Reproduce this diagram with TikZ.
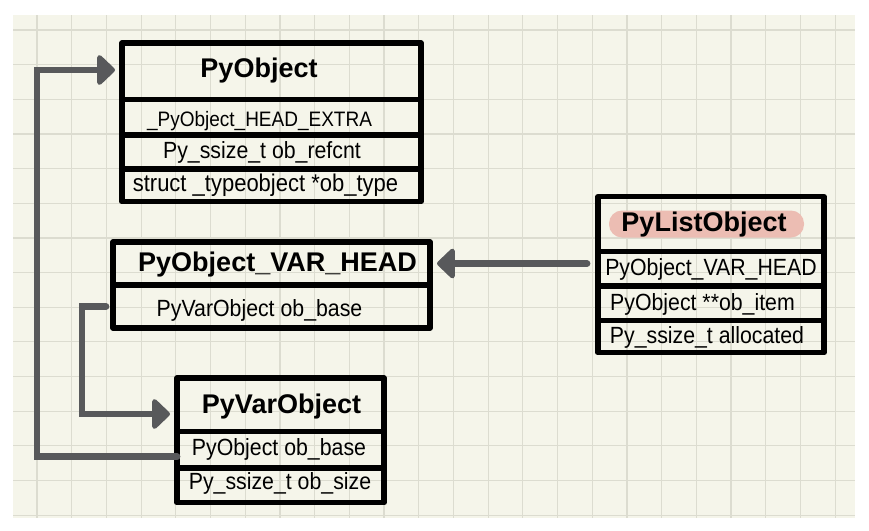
\documentclass[tikz,border=0pt]{standalone}
\usepackage{fontspec}
\setmainfont{Liberation Sans}
\usetikzlibrary{arrows.meta}
\definecolor{paper}{HTML}{F5F5EA}
\definecolor{gridc}{HTML}{DCDCD0}
\definecolor{conngray}{HTML}{58595B}
\definecolor{pillc}{HTML}{ECBDB3}
\newcommand{\fsz}[1]{\fontsize{#1}{#1}\selectfont}
\newcommand{\tallbox}[1]{\scalebox{1}[1.1]{#1}}
\begin{document}
\begin{tikzpicture}[x=1pt,y=-1pt,
  cell/.style={draw=black, line width=5.5pt, line join=round, inner sep=0pt, outer sep=0pt, anchor=north west},
  title/.style={font=\fsz{27}\bfseries, inner sep=0pt, anchor=base},
  field/.style={font=\fsz{21.3}, inner sep=0pt, anchor=base},
  gridline/.style={draw=gridc, line width=1.2pt},
  conn/.style={draw=conngray, line width=6.8pt, line cap=round, -{Triangle[length=19pt,width=35pt,round]}},
]
\useasboundingbox (0,0) rectangle (869,530);
\fill[white] (0,0) rectangle (869,530);
\fill[paper] (13,15) rectangle (855,518);
\foreach \i in {0,...,23} \draw[gridline] ({37+34.7*\i},15) -- ({37+34.7*\i},518);
\foreach \j in {0,...,14} \draw[gridline] (13,{30+34.65*\j}) -- (855,{30+34.65*\j});

% PyObject
\node[cell, minimum width=299pt, minimum height=56.5pt] (po0) at (122,43) {};
\node[cell, minimum width=299pt, minimum height=35.5pt] (po1) at (122,99.5) {};
\node[cell, minimum width=299pt, minimum height=34pt] (po2) at (122,135) {};
\node[cell, minimum width=299pt, minimum height=32.7pt] (po3) at (122,169) {};
\node[title] (tpo0) at (259,77) {PyObject};
\node[field, font=\fsz{19}] (tpo1) at (259.5,126) {\tallbox{\_PyObject\_HEAD\_EXTRA}};
\node[field] (tpo2) at (262,158.3) {\tallbox{Py\_ssize\_t ob\_refcnt}};
\node[field, font=\fsz{22}] (tpo3) at (265.5,191) {\tallbox{struct \_typeobject *ob\_type}};

% PyObject_VAR_HEAD
\node[cell, minimum width=317pt, minimum height=43pt] (vh0) at (113,242) {};
\node[cell, minimum width=317pt, minimum height=43pt] (vh1) at (113,285) {};
\node[title] (tvh0) at (277.5,271.7) {PyObject\_VAR\_HEAD};
\node[field] (tvh1) at (259.5,316) {\tallbox{PyVarObject ob\_base}};

% PyVarObject
\node[cell, minimum width=207pt, minimum height=53.7pt] (pv0) at (177,378) {};
\node[cell, minimum width=207pt, minimum height=36.3pt] (pv1) at (177,431.7) {};
\node[cell, minimum width=207pt, minimum height=34.7pt] (pv2) at (177,468) {};
\node[title] (tpv0) at (281.5,413.3) {PyVarObject};
\node[field] (tpv1) at (279,455) {\tallbox{PyObject ob\_base}};
\node[field] (tpv2) at (280,489.3) {\tallbox{Py\_ssize\_t ob\_size}};

% PyListObject
\node[cell, minimum width=226pt, minimum height=55pt] (pl0) at (598,196.7) {};
\node[cell, minimum width=226pt, minimum height=34.3pt] (pl1) at (598,251.7) {};
\node[cell, minimum width=226pt, minimum height=34.7pt] (pl2) at (598,286) {};
\node[cell, minimum width=226pt, minimum height=32pt] (pl3) at (598,320.7) {};
\node[fill=pillc, rounded corners=13pt, minimum width=195pt, minimum height=27pt, inner sep=0pt] (pill) at (706.5,224) {};
\node[title] (tpl0) at (704,231.7) {PyListObject};
\node[field] (tpl1) at (711,275) {\tallbox{PyObject\_VAR\_HEAD}};
\node[field] (tpl2) at (702.5,310) {\tallbox{PyObject **ob\_item}};
\node[field] (tpl3) at (707,343.3) {\tallbox{Py\_ssize\_t allocated}};

% connectors
\coordinate (railA) at (37,70);
\coordinate (railB) at (82,414);
\draw[conn] ([xshift=-11pt]pl1.west |- vh0.east) -- ([xshift=7pt]vh0.east);
\draw[conn] ([yshift=-7pt]pv1.west) -| (railA) -- ([xshift=-7pt]po0.west |- railA);
\draw[conn] ([xshift=-7pt]vh1.west) -| (railB) -- ([xshift=-7pt]pv0.west |- railB);
\end{tikzpicture}
\end{document}
